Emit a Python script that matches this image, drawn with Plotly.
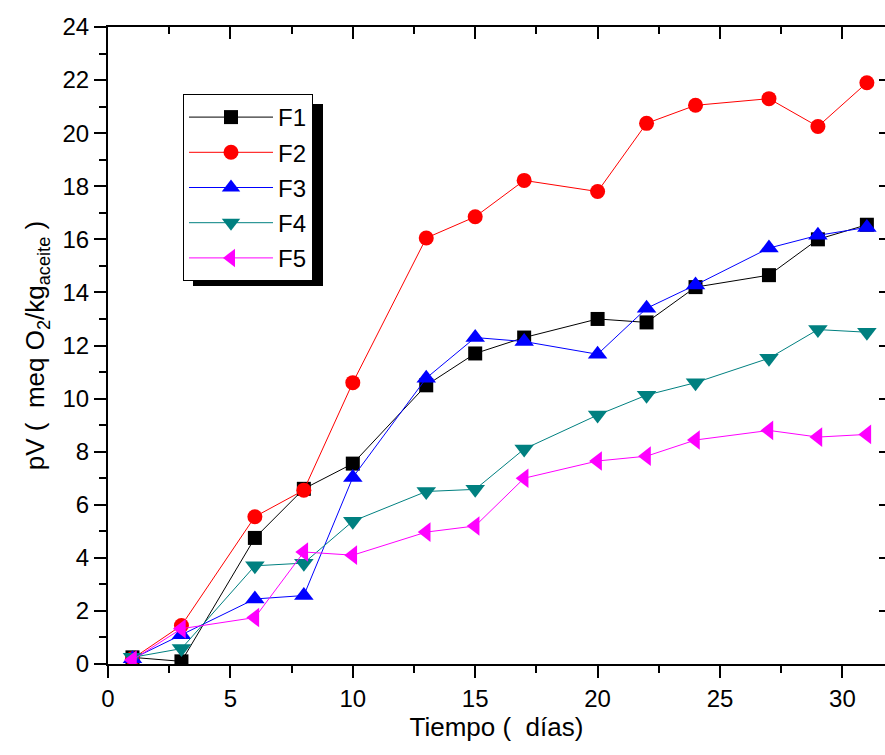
import plotly.graph_objects as go

days = [1, 3, 6, 8, 10, 13, 15, 17, 20, 22, 24, 27, 29, 31]
F1 = [0.25, 0.1, 4.75, 6.6, 7.55, 10.5, 11.7, 12.3, 13.0, 12.87, 14.2, 14.65, 16.0, 16.55]
F2 = [0.2, 1.45, 5.55, 6.55, 10.6, 16.05, 16.85, 18.22, 17.8, 20.37, 21.05, 21.3, 20.25, 21.9]
F3 = [0.2, 1.1, 2.45, 2.58, 7.03, 10.77, 12.3, 12.15, 11.67, 13.4, 14.28, 15.67, 16.15, 16.45]
F4 = [0.25, 0.58, 3.7, 3.8, 5.38, 6.5, 6.58, 8.1, 9.38, 10.13, 10.6, 11.52, 12.6, 12.5]
F5 = [0.15, 1.33, 1.75, 4.22, 4.1, 4.97, 5.2, 7.0, 7.65, 7.83, 8.44, 8.8, 8.55, 8.65]

series = [
    ("F1", F1, "#000000", "square", 14),
    ("F2", F2, "#FF0000", "circle", 15),
    ("F3", F3, "#0000FF", "triangle-up", 17),
    ("F4", F4, "#008080", "triangle-down", 17),
    ("F5", F5, "#FF00FF", "triangle-left", 17),
]

FONT = "Liberation Sans, Arial, sans-serif"
XMAX = 31.74
PLOT_L, PLOT_T, PLOT_W, PLOT_H = 108, 27, 777, 637

fig = go.Figure()
for name, vals, col, sym, sz in series:
    fig.add_trace(go.Scatter(
        x=days, y=vals, name=name, mode="lines+markers",
        legendgroup=name,
        line=dict(color=col, width=1),
        marker=dict(symbol=sym, size=sz, color=col, line=dict(width=0)),
    ))
# helper trace so the mirrored top/right axes are drawn
fig.add_trace(go.Scatter(x=[], y=[], xaxis="x2", yaxis="y2", showlegend=False, hoverinfo="skip"))

def px_x(p):
    return (p - PLOT_L) / PLOT_W

def px_y(p):
    return 1 - (p - PLOT_T) / PLOT_H

LEG_L, LEG_T, LEG_W, LEG_H, SH = 183, 94, 130, 182, 10

fig.update_layout(
    width=885, height=755,
    margin=dict(l=PLOT_L, r=0, t=PLOT_T, b=755 - PLOT_T - PLOT_H),
    paper_bgcolor="white", plot_bgcolor="white",
    font=dict(family=FONT, size=24, color="black"),
    xaxis=dict(
        range=[0, XMAX], tick0=0, dtick=5,
        showline=True, linewidth=2, linecolor="black",
        ticks="outside", ticklen=12, tickwidth=2, tickcolor="black",
        minor=dict(ticks="outside", ticklen=7, tickwidth=2, tickcolor="black", dtick=2.5, tick0=0),
        showgrid=False, zeroline=False,
        tickfont=dict(size=24, family=FONT),
        title=dict(text="Tiempo (  días)", font=dict(size=26, family=FONT), standoff=3),
    ),
    yaxis=dict(
        range=[0, 24], tick0=0, dtick=2,
        showline=True, linewidth=2, linecolor="black",
        ticks="outside", ticklen=12, tickwidth=2, tickcolor="black",
        minor=dict(ticks="outside", ticklen=7, tickwidth=2, tickcolor="black", dtick=1, tick0=0),
        showgrid=False, zeroline=False,
        tickfont=dict(size=24, family=FONT),
        title=dict(text="pV (  meq O<sub>2</sub>/kg<sub>aceite</sub> )", font=dict(size=26, family=FONT), standoff=10),
    ),
    xaxis2=dict(
        overlaying="x", side="top", anchor="y", range=[0, XMAX], tick0=0, dtick=5,
        showline=True, linewidth=2, linecolor="black",
        ticks="inside", ticklen=12, tickwidth=2, tickcolor="black",
        minor=dict(ticks="inside", ticklen=7, tickwidth=2, tickcolor="black", dtick=2.5, tick0=0),
        showticklabels=False, showgrid=False, zeroline=False,
    ),
    yaxis2=dict(
        overlaying="y", side="right", anchor="x", range=[0, 24], tick0=0, dtick=2,
        showline=False,
        ticks="inside", ticklen=6, tickwidth=2, tickcolor="black",
        showticklabels=False, showgrid=False, zeroline=False,
    ),
    legend=dict(
        x=px_x(LEG_L), y=px_y(LEG_T), xanchor="left", yanchor="top",
        bgcolor="white", bordercolor="black", borderwidth=1,
        font=dict(size=24, family=FONT),
        itemwidth=84, tracegroupgap=1,
    ),
    shapes=[dict(
        type="rect", xref="paper", yref="paper",
        x0=px_x(LEG_L + SH), x1=px_x(LEG_L + LEG_W + SH),
        y0=px_y(LEG_T + LEG_H + SH), y1=px_y(LEG_T + SH),
        fillcolor="black", line=dict(width=0), layer="above",
    )],
    showlegend=True,
)

fig.write_html("out.html")
